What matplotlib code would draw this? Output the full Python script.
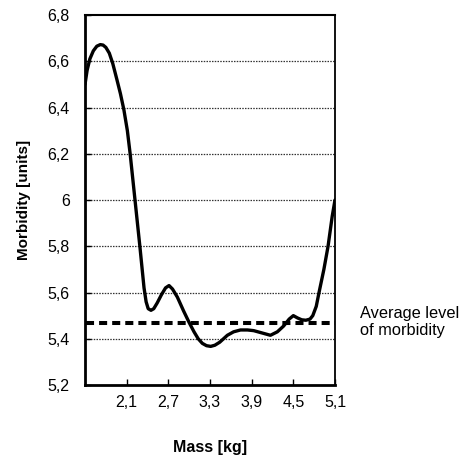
import matplotlib

matplotlib.use("Agg")

import matplotlib.pyplot as plt

plt.rcParams["font.family"] = ["Liberation Sans", "DejaVu Sans"]

# curve
mass = [1.50, 1.53, 1.57, 1.62, 1.67, 1.72, 1.76, 1.80, 1.85, 1.90, 1.96, 2.01,
        2.06, 2.11, 2.15, 2.22, 2.29, 2.35, 2.38, 2.41, 2.45, 2.49, 2.54, 2.60,
        2.66, 2.71, 2.76, 2.83, 2.92, 3.00, 3.07, 3.13, 3.19, 3.25, 3.31, 3.37,
        3.44, 3.55, 3.64, 3.74, 3.84, 3.93, 4.05, 4.17, 4.27, 4.36, 4.44, 4.50,
        4.56, 4.62, 4.68, 4.74, 4.78, 4.83, 4.87, 4.94, 5.00, 5.06, 5.10]
morbidity = [6.50, 6.56, 6.61, 6.645, 6.665, 6.672, 6.67, 6.66, 6.635, 6.59, 6.52, 6.46,
             6.39, 6.30, 6.20, 6.00, 5.80, 5.62, 5.56, 5.53, 5.523, 5.53, 5.555, 5.59,
             5.62, 5.63, 5.615, 5.58, 5.52, 5.47, 5.43, 5.40, 5.38, 5.37, 5.367, 5.372,
             5.385, 5.415, 5.43, 5.438, 5.438, 5.435, 5.425, 5.415, 5.43, 5.455, 5.485, 5.50,
             5.49, 5.482, 5.48, 5.485, 5.50, 5.54, 5.60, 5.70, 5.80, 5.93, 6.00]
average = 5.467

x_ticks = [2.1, 2.7, 3.3, 3.9, 4.5, 5.1]
x_labels = ["2,1", "2,7", "3,3", "3,9", "4,5", "5,1"]
y_ticks = [5.2, 5.4, 5.6, 5.8, 6.0, 6.2, 6.4, 6.6, 6.8]
y_labels = ["5,2", "5,4", "5,6", "5,8", "6", "6,2", "6,4", "6,6", "6,8"]

fig = plt.figure(figsize=(4.70, 4.57), dpi=100)
ax = fig.add_axes([85 / 470, 72 / 457, 250 / 470, 370 / 457])

for y in y_ticks[1:-1]:
    ax.axhline(y, color="#333333", linewidth=0.9, linestyle=(0, (1.2, 1.0)), zorder=1)

ax.plot([1.52, 5.1], [average, average], color="black", linewidth=2.9,
        dashes=(2.0, 1.25), zorder=2)
ax.plot(mass, morbidity, color="black", linewidth=2.4, solid_joinstyle="round",
        solid_capstyle="round", zorder=3)

ax.set_xlim(1.5, 5.1)
ax.set_ylim(5.2, 6.8)
ax.set_xticks(x_ticks)
ax.set_xticklabels(x_labels)
ax.set_yticks(y_ticks)
ax.set_yticklabels(y_labels)
ax.tick_params(direction="in", length=4, width=1.0, labelsize=11.5, pad=7)
ax.tick_params(axis="y", pad=11)

ax.spines["left"].set_linewidth(2.0)
ax.spines["bottom"].set_linewidth(2.0)
ax.spines["top"].set_linewidth(1.5)
ax.spines["right"].set_linewidth(1.3)

ax.set_xlabel("Mass [kg]", fontsize=11.5, fontweight="bold", labelpad=22)
ax.set_ylabel("Morbidity [units]", fontsize=11, fontweight="bold", labelpad=12)

fig.text(360 / 470, 1 - 322 / 457, "Average level\nof morbidity", fontsize=11.8,
         ha="left", va="center", linespacing=1.1)

fig.savefig("out.png", dpi=100)
